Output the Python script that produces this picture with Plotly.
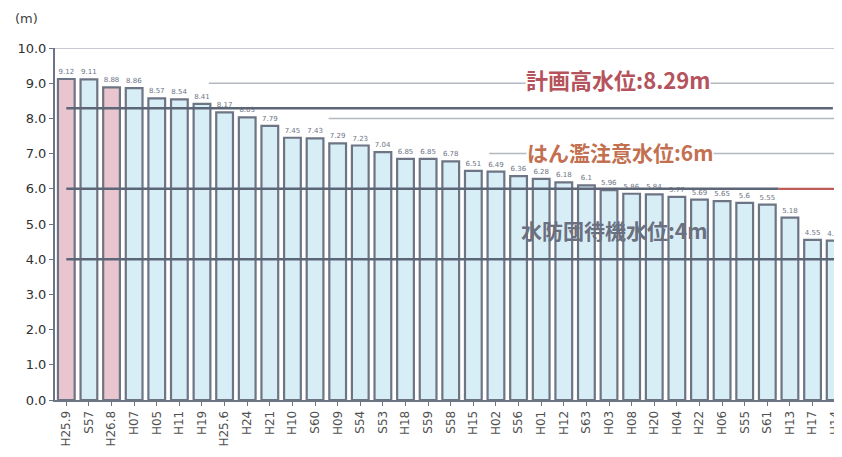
import plotly.graph_objects as go

categories = ["H25.9", "S57", "H26.8", "H07", "H05", "H11", "H19", "H25.6", "H24", "H21",
              "H10", "S60", "H09", "S54", "S53", "H18", "S59", "S58", "H15", "H02",
              "S56", "H01", "H12", "S63", "H03", "H08", "H20", "H04", "H22", "H06",
              "S55", "S61", "H13", "H17", "H14"]
values = [9.12, 9.11, 8.88, 8.86, 8.57, 8.54, 8.41, 8.17, 8.03, 7.79,
          7.45, 7.43, 7.29, 7.23, 7.04, 6.85, 6.85, 6.78, 6.51, 6.49,
          6.36, 6.28, 6.18, 6.1, 5.96, 5.86, 5.84, 5.77, 5.69, 5.65,
          5.6, 5.55, 5.18, 4.55, 4.53]
value_labels = ["9.12", "9.11", "8.88", "8.86", "8.57", "8.54", "8.41", "8.17", "8.03", "7.79",
                "7.45", "7.43", "7.29", "7.23", "7.04", "6.85", "6.85", "6.78", "6.51", "6.49",
                "6.36", "6.28", "6.18", "6.1", "5.96", "5.86", "5.84", "5.77", "5.69", "5.65",
                "5.6", "5.55", "5.18", "4.55", "4.53"]
highlight = ["H25.9", "H26.8"]

plan_level = 8.29
warning_level = 6.0
standby_level = 4.0
y_ticks = [0, 1, 2, 3, 4, 5, 6, 7, 8, 9, 10]

EDGE = "#6d7484"
fills = ["#e9c6cf" if c in highlight else "#d8eef7" for c in categories]

fig = go.Figure()
fig.add_trace(go.Bar(
    x=list(range(len(categories))), y=values,
    marker=dict(color=fills, line=dict(color=EDGE, width=2.2)),
    width=0.74,
    text=value_labels, textposition="outside", cliponaxis=True,
    textfont=dict(size=7, color="#6d7484", family="DejaVu Sans"),
    hoverinfo="skip",
))

n = len(categories)
right = n - 0.5

shapes = []
# light gridline fragments
for lvl, start in [(10.0, -0.5), (9.0, 6.3), (8.0, 11.6), (7.0, 18.7)]:
    shapes.append(dict(type="line", xref="x", yref="y", x0=start, x1=right, y0=lvl, y1=lvl,
                       line=dict(color="#b4b8c0", width=1.5), layer="below"))
# reference lines
shapes.append(dict(type="line", xref="x", yref="y", x0=0.0, x1=33.9, y0=plan_level, y1=plan_level,
                   line=dict(color="#5d6676", width=2.6)))
shapes.append(dict(type="line", xref="x", yref="y", x0=0.0, x1=31.5, y0=warning_level, y1=warning_level,
                   line=dict(color="#5d6676", width=2.6)))
shapes.append(dict(type="line", xref="x", yref="y", x0=31.5, x1=right, y0=warning_level, y1=warning_level,
                   line=dict(color="#c05a55", width=2.2)))
shapes.append(dict(type="line", xref="x", yref="y", x0=0.0, x1=right, y0=standby_level, y1=standby_level,
                   line=dict(color="#5d6676", width=2.6)))

annotations = [
    dict(text="<b>計画高水位:8.29m</b>", x=24.4, y=9.12, xref="x", yref="y", showarrow=False,
         xanchor="center", yanchor="middle", font=dict(size=22, color="#b5525c", family="Noto Sans CJK JP"),
         bgcolor="white", borderpad=0),
    dict(text="<b>はん濫注意水位:6m</b>", x=24.5, y=7.05, xref="x", yref="y", showarrow=False,
         xanchor="center", yanchor="middle", font=dict(size=21, color="#c27050", family="Noto Sans CJK JP"),
         bgcolor="white", borderpad=0),
    dict(text="<b>水防団待機水位:4m</b>", x=24.2, y=4.83, xref="x", yref="y", showarrow=False,
         xanchor="center", yanchor="middle", font=dict(size=21, color="#6a7080", family="Noto Sans CJK JP")),
    dict(text="(m)", x=-0.054, y=1.085, xref="paper", yref="paper", showarrow=False,
         xanchor="left", yanchor="middle",
         font=dict(size=13, color="#404040", family="DejaVu Sans")),
]

fig.update_layout(
    width=834, height=441,
    margin=dict(l=47, r=0, t=40, b=49),
    paper_bgcolor="white", plot_bgcolor="white",
    showlegend=False,
    shapes=shapes, annotations=annotations,
    font=dict(family="DejaVu Sans", color="#404040"),
)
fig.update_xaxes(
    tickmode="array", tickvals=list(range(n)), ticktext=categories,
    tickangle=-90, tickfont=dict(size=12, color="#505050"),
    ticklabeloverflow="allow",
    range=[-0.5, 34.17], showgrid=False, zeroline=False,
    showline=True, linecolor=EDGE, linewidth=2,
    ticks="outside", tickson="boundaries", ticklen=4, tickcolor=EDGE,
)
fig.update_yaxes(
    range=[0, 10], tickvals=y_ticks, ticktext=[f"{v:.1f}" for v in y_ticks],
    tickfont=dict(size=13, color="#303030"),
    showgrid=False, zeroline=False,
    showline=True, linecolor=EDGE, linewidth=2,
    ticks="outside", ticklen=4, tickcolor=EDGE,
)

fig.write_html("out.html")
